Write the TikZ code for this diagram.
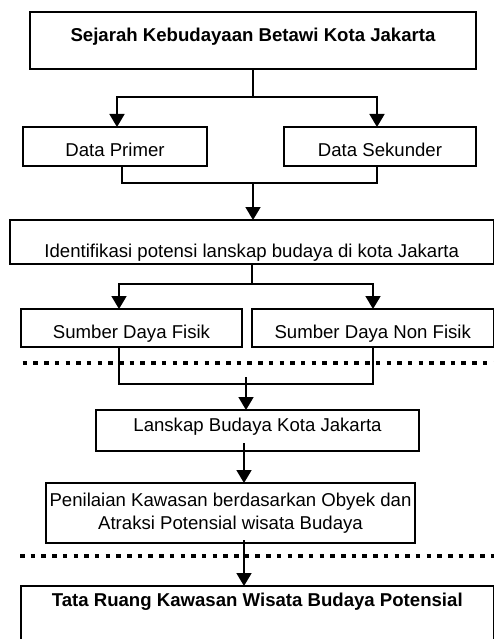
\documentclass[tikz,border=0pt]{standalone}
\usepackage{fontspec}
\setmainfont{Liberation Sans}
\usetikzlibrary{arrows.meta,calc}
\begin{document}
\begin{tikzpicture}[x=1pt,y=-1pt,
  box/.style={draw, line width=1.4pt, rectangle, inner sep=0pt, outer sep=0pt, anchor=north west,
    font=\fontsize{18.6}{23.3}\selectfont},
  boldbox/.style={box, font=\fontsize{18.6}{23.3}\selectfont\bfseries},
  conn/.style={line width=1.8pt},
  arr/.style={conn, -{Triangle[length=13pt,width=15pt]}},
  sep/.style={line width=4pt, dash pattern=on 4.5pt off 6.2pt}]
\useasboundingbox (0,0) rectangle (494,639);

% boxes
\node[boldbox, minimum width=446pt, minimum height=57pt, text height=14pt, text depth=12pt]
  (top) at (30,12) {Sejarah Kebudayaan Betawi Kota Jakarta};
\node[box, minimum width=184pt, minimum height=39pt, text height=20pt, text depth=0pt]
  (dp) at (23,127) {Data Primer};
\node[box, minimum width=192pt, minimum height=39pt, text height=20pt, text depth=0pt]
  (ds) at (284,127) {Data Sekunder};
\node[box, minimum width=483.5pt, minimum height=44pt, text height=31pt, text depth=0pt]
  (id) at (10,220) {Identifikasi potensi lanskap budaya di kota Jakarta};
\node[box, minimum width=221pt, minimum height=38pt, text height=20pt, text depth=0pt]
  (sf) at (21,309) {Sumber Daya Fisik};
\node[box, minimum width=241.5pt, minimum height=38pt, text height=20pt, text depth=0pt]
  (snf) at (252,309) {Sumber Daya Non Fisik};
\node[box, minimum width=323pt, minimum height=41pt, text height=13pt, text depth=12pt]
  (lk) at (96,410) {Lanskap Budaya Kota Jakarta};
\node[box, minimum width=369pt, minimum height=60pt, align=center]
  (pn) at (46,483) {Penilaian Kawasan berdasarkan Obyek dan\\Atraksi Potensial wisata Budaya};
\node[boldbox, minimum width=472.5pt, minimum height=64pt, text height=13pt, text depth=36pt]
  (tr) at (21,586) {Tata Ruang Kawasan Wisata Budaya Potensial};

% separators
\coordinate (d1s) at (22.7,363); \coordinate (d1e) at (494,363);
\coordinate (d2s) at (20,556);   \coordinate (d2e) at (494,556);
\draw[sep] (d1s) -- (d1e);
\draw[sep] (d2s) -- (d2e);

% top -> data
\coordinate (jL) at (117,97);
\coordinate (jR) at (377,97);
\draw[arr] (top.south) -- (top.south |- jL) -| (dp.north -| jL);
\draw[arr] (top.south |- jR) -| (ds.north -| jR);

% data -> identifikasi
\coordinate (k1) at (122,183);
\coordinate (k2) at (377,183);
\draw[conn] (dp.south -| k1) -- (k1) -- (k2) -- (ds.south -| k2);
\draw[arr] (k1 -| top.south) -- (id.north -| top.south);

% identifikasi -> sumber daya
\coordinate (m1) at (252,284);
\coordinate (mL) at (119,284);
\coordinate (mR) at (373,284);
\draw[arr] (id.south -| m1) -- (m1) -| (sf.north -| mL);
\draw[arr] (m1) -| (snf.north -| mR);

% sumber daya -> lanskap
\coordinate (n1) at (119,384);
\coordinate (n2) at (373,384);
\coordinate (n3) at (246,377);
\draw[conn] (sf.south -| n1) -- (n1) -- (n2) -- (snf.south -| n2);
\draw[arr] (n3) -- (lk.north -| n3);

% lanskap -> penilaian -> tata ruang
\coordinate (p1) at (244,443);
\coordinate (q1) at (244,540);
\draw[arr] (p1) -- (pn.north -| p1);
\draw[arr] (q1) -- (tr.north -| q1);
\end{tikzpicture}
\end{document}
